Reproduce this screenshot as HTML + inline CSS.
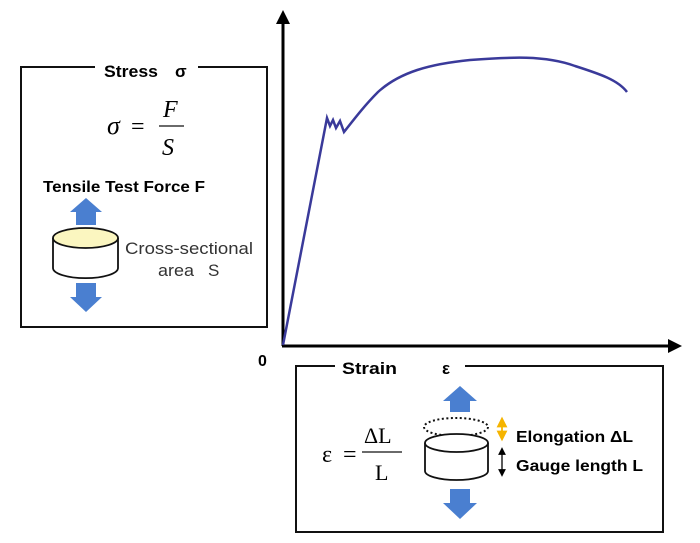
<!DOCTYPE html>
<html><head><style>body{margin:0;background:#fff}svg{display:block}</style></head><body>
<svg width="700" height="543" viewBox="0 0 700 543" xmlns="http://www.w3.org/2000/svg" font-family="Liberation Sans, DejaVu Sans, sans-serif">
<defs>
<marker id="ah" markerWidth="6" markerHeight="6" refX="3" refY="3" orient="auto-start-reverse"><path d="M0,0 L6,3 L0,6 z" fill="#000"/></marker>
<marker id="ay" markerWidth="6" markerHeight="6" refX="3" refY="3" orient="auto-start-reverse"><path d="M0,0 L6,3 L0,6 z" fill="#f5b400"/></marker>
</defs>
<!-- left box -->
<path d="M95,67 H21 V327 H267 V67 H198" fill="none" stroke="#111" stroke-width="2"/>
<text x="104" y="77" font-size="17" font-weight="bold" textLength="54" lengthAdjust="spacingAndGlyphs">Stress</text>
<text x="175" y="77" font-size="17" font-weight="bold">σ</text>
<text x="107" y="134" font-size="26" font-style="italic" font-family="Liberation Serif, serif">σ</text>
<text x="131" y="134" font-size="24" font-family="Liberation Serif, serif">=</text>
<text x="163" y="117" font-size="24" font-style="italic" font-family="Liberation Serif, serif">F</text>
<line x1="159" y1="126" x2="184" y2="126" stroke="#111" stroke-width="1.2"/>
<text x="162" y="155" font-size="24" font-style="italic" font-family="Liberation Serif, serif">S</text>
<text x="43" y="192" font-size="16" font-weight="bold" textLength="162" lengthAdjust="spacingAndGlyphs">Tensile Test Force F</text>
<path d="M76,225 V212 H70 L86,198 L102,212 H96 V225 z" fill="#4a7fd0"/>
<path d="M53,238 V268 A32,10 0 0 0 118,268 V238" fill="#fff" stroke="#111" stroke-width="1.8"/>
<ellipse cx="85.5" cy="238" rx="32.5" ry="10" fill="#fbf6c0" stroke="#111" stroke-width="1.8"/>
<path d="M76,283 V297 H70 L86,312 L102,297 H96 V283 z" fill="#4a7fd0"/>
<text x="125" y="254" font-size="17" fill="#333" textLength="128" lengthAdjust="spacingAndGlyphs">Cross-sectional</text>
<text x="158" y="276" font-size="17" fill="#333" textLength="36" lengthAdjust="spacingAndGlyphs">area</text>
<text x="208" y="276" font-size="17" fill="#333">S</text>
<!-- axes -->
<line x1="283" y1="346" x2="283" y2="22" stroke="#000" stroke-width="3"/>
<path d="M276,24 L283,10 L290,24 z" fill="#000"/>
<line x1="282" y1="346" x2="670" y2="346" stroke="#000" stroke-width="3"/>
<path d="M668,339 L682,346 L668,353 z" fill="#000"/>
<text x="258" y="366" font-size="16" font-weight="bold">0</text>
<path d="M283,345 L327,118 L330,126 L333,120 L336,128 L340,121 L344,132 C355,118 365,105 378,92 C400,72 430,64 470,60 C510,57 545,55 575,66 C600,74 618,80 627,92" fill="none" stroke="#3a3a9a" stroke-width="2.5"/>
<!-- bottom box -->
<path d="M335,366 H296 V532 H663 V366 H465" fill="none" stroke="#111" stroke-width="2"/>
<text x="342" y="374" font-size="17" font-weight="bold" textLength="55" lengthAdjust="spacingAndGlyphs">Strain</text>
<text x="442" y="374" font-size="17" font-weight="bold">ε</text>
<text x="322" y="462" font-size="24" font-family="Liberation Serif, serif">ε</text>
<text x="343" y="462" font-size="24" font-family="Liberation Serif, serif">=</text>
<text x="364" y="443" font-size="22" font-family="Liberation Serif, serif">ΔL</text>
<line x1="362" y1="452" x2="402" y2="452" stroke="#111" stroke-width="1.2"/>
<text x="375" y="480" font-size="22" font-family="Liberation Serif, serif">L</text>
<path d="M450,412 V401 H443 L460,386 L477,401 H470 V412 z" fill="#4a7fd0"/>
<ellipse cx="456" cy="427" rx="32" ry="9" fill="none" stroke="#111" stroke-width="2" stroke-dasharray="2,2.5"/>
<path d="M425,443 V471 A31.5,9 0 0 0 488,471 V443" fill="#fff" stroke="#111" stroke-width="1.8"/>
<ellipse cx="456.5" cy="443" rx="31.5" ry="9" fill="#fff" stroke="#111" stroke-width="1.8"/>
<path d="M450,489 V503 H443 L460,519 L477,503 H470 V489 z" fill="#4a7fd0"/>
<line x1="502" y1="422" x2="502" y2="436" stroke="#f5b400" stroke-width="1.8" marker-start="url(#ay)" marker-end="url(#ay)"/>
<line x1="502" y1="451" x2="502" y2="473" stroke="#000" stroke-width="1.3" marker-start="url(#ah)" marker-end="url(#ah)"/>
<text x="516" y="442" font-size="16" font-weight="bold" textLength="117" lengthAdjust="spacingAndGlyphs">Elongation ΔL</text>
<text x="516" y="471" font-size="16" font-weight="bold" textLength="127" lengthAdjust="spacingAndGlyphs">Gauge length L</text>
</svg>
</body></html>
